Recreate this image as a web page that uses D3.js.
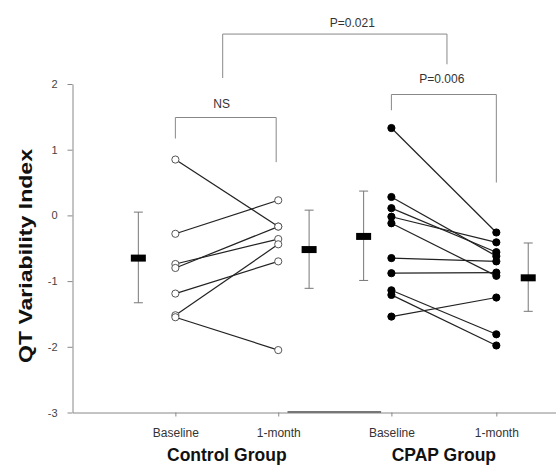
<!DOCTYPE html>
<html>
<head>
<meta charset="utf-8">
<script src="https://cdn.jsdelivr.net/npm/d3@7"></script>
<style>
  body { margin: 0; background: #fff; }
  svg { display: block; font-family: "Liberation Sans", Arial, sans-serif; }
</style>
</head>
<body>
<svg id="chart" width="556" height="466"></svg>
<script>
// category positions on the x axis and their labels
const timeLabels = ["Baseline", "1-month", "Baseline", "1-month"];
const timePos = [1, 2, 3.1, 4.12];
const groupNames = ["Control Group", "CPAP Group"];
const yTicks = [-3, -2, -1, 0, 1, 2];

// individual subjects, baseline -> 1 month
const controlBaseline = [0.85, -0.28, -0.74, -0.80, -1.19, -1.52, -1.55];
const control1Month = [-0.17, 0.23, -0.36, -0.17, -0.70, -0.44, -2.05];
const cpapBaseline = [1.33, 0.28, 0.11, -0.02, -0.12, -0.65, -0.88, -1.14, -1.21, -1.54];
const cpap1Month = [-0.26, -0.62, -0.56, -0.41, -0.92, -0.70, -0.87, -1.81, -1.98, -1.25];

// group means with error bars (drawn beside each column)
const meanPos = [0.64, 2.30, 2.83, 4.43];
const meanValues = [-0.65, -0.52, -0.32, -0.95];
const errUpper = [0.05, 0.08, 0.37, -0.42];
const errLower = [-1.33, -1.11, -0.99, -1.46];

// significance brackets: x from/to, top, left end, right end, label
const brackets = [
  { x1: 1.46, x2: 3.64, top: 2.76, y1: 2.09, y2: 2.30, label: "P=0.021", lx: 2.72, ly: 2.86 },
  { x1: 1, x2: 1.98, top: 1.49, y1: 1.17, y2: 0.81, label: "NS", lx: 1.45, ly: 1.64 },
  { x1: 3.1, x2: 4.12, top: 1.84, y1: 1.60, y2: 0.50, label: "P=0.006", lx: 3.59, ly: 2.01 }
];

const svg = d3.select("#chart");

const x = d3.scaleLinear().domain([0, 4.7]).range([72.5, 556]);
const y = d3.scaleLinear().domain([-3, 2]).range([412.5, 84]);

// y axis
const yAxis = svg.append("g")
  .attr("transform", "translate(72.5,0)")
  .call(d3.axisLeft(y).tickValues(yTicks).tickFormat(d => String(d))
    .tickSize(5).tickPadding(10).tickSizeOuter(0));
yAxis.select(".domain").attr("stroke", "#888");
yAxis.selectAll(".tick line").attr("stroke", "#888");
yAxis.selectAll(".tick text").attr("fill", "#444").attr("font-size", 11)
  .style("font-family", "'Liberation Sans', Arial, sans-serif");

// x axis
const xAxis = svg.append("g")
  .attr("transform", "translate(0,412.5)")
  .call(d3.axisBottom(x).tickValues(timePos).tickSize(4).tickPadding(12).tickSizeOuter(0)
    .tickFormat((d, i) => timeLabels[i]));
xAxis.select(".domain").attr("stroke", "#888");
xAxis.selectAll(".tick line").attr("stroke", "#888");
xAxis.selectAll(".tick text").attr("fill", "#333").attr("font-size", 12)
  .style("font-family", "'Liberation Sans', Arial, sans-serif");

// the darker piece of the x axis between the groups
svg.append("line")
  .attr("x1", x(2.09)).attr("x2", x(3.0))
  .attr("y1", y(-3) - 0.5).attr("y2", y(-3) - 0.5)
  .attr("stroke", "#777").attr("stroke-width", 2);

// group names
svg.selectAll(".group")
  .data(groupNames)
  .join("text")
  .attr("x", (d, i) => x((timePos[i * 2] + timePos[i * 2 + 1]) / 2))
  .attr("y", 461)
  .attr("text-anchor", "middle")
  .attr("font-size", 17.5)
  .attr("font-weight", "bold")
  .attr("fill", "#111")
  .text(d => d);

// y label
svg.append("text")
  .attr("transform", "translate(32," + ((149 + 363) / 2) + ") rotate(-90)")
  .attr("text-anchor", "middle")
  .attr("font-size", 18)
  .attr("font-weight", "bold")
  .attr("fill", "#111")
  .attr("textLength", 214)
  .attr("lengthAdjust", "spacingAndGlyphs")
  .text("QT Variability Index");

// brackets
brackets.forEach(b => {
  svg.append("path")
    .attr("d", d3.line()([[x(b.x1), y(b.y1)], [x(b.x1), y(b.top)], [x(b.x2), y(b.top)], [x(b.x2), y(b.y2)]]))
    .attr("fill", "none")
    .attr("stroke", "#888");
  svg.append("text")
    .attr("x", x(b.lx)).attr("y", y(b.ly))
    .attr("text-anchor", "middle")
    .attr("font-size", 12)
    .attr("fill", "#333")
    .text(b.label);
});

// paired lines
const groups = [
  { base: controlBaseline, month: control1Month, p0: timePos[0], p1: timePos[1], fill: "#fff", stroke: "#555" },
  { base: cpapBaseline, month: cpap1Month, p0: timePos[2], p1: timePos[3], fill: "#000", stroke: "#000" }
];

groups.forEach(g => {
  const pairs = g.base.map((v, i) => [v, g.month[i]]);
  svg.append("g").selectAll("line")
    .data(pairs)
    .join("line")
    .attr("x1", x(g.p0)).attr("x2", x(g.p1))
    .attr("y1", d => y(d[0])).attr("y2", d => y(d[1]))
    .attr("stroke", "#222").attr("stroke-width", 1.2);

  const pts = g.base.map(v => [g.p0, v]).concat(g.month.map(v => [g.p1, v]));
  svg.append("g").selectAll("circle")
    .data(pts)
    .join("circle")
    .attr("cx", d => x(d[0])).attr("cy", d => y(d[1]))
    .attr("r", 3.6)
    .attr("fill", g.fill)
    .attr("stroke", g.stroke)
    .attr("stroke-width", 1);
});

// mean +/- error bars
const summary = meanPos.map((p, i) => ({ p, m: meanValues[i], hi: errUpper[i], lo: errLower[i] }));
const sg = svg.append("g");
sg.selectAll(".whisker")
  .data(summary)
  .join("line")
  .attr("x1", d => x(d.p)).attr("x2", d => x(d.p))
  .attr("y1", d => y(d.hi)).attr("y2", d => y(d.lo))
  .attr("stroke", "#777");
["hi", "lo"].forEach(k => {
  sg.selectAll(".cap-" + k)
    .data(summary)
    .join("line")
    .attr("x1", d => x(d.p) - 4.5).attr("x2", d => x(d.p) + 4.5)
    .attr("y1", d => y(d[k])).attr("y2", d => y(d[k]))
    .attr("stroke", "#777");
});
sg.selectAll("rect")
  .data(summary)
  .join("rect")
  .attr("x", d => x(d.p) - 7.5).attr("y", d => y(d.m) - 3.5)
  .attr("width", 15).attr("height", 7)
  .attr("fill", "#000");
</script>
</body>
</html>
